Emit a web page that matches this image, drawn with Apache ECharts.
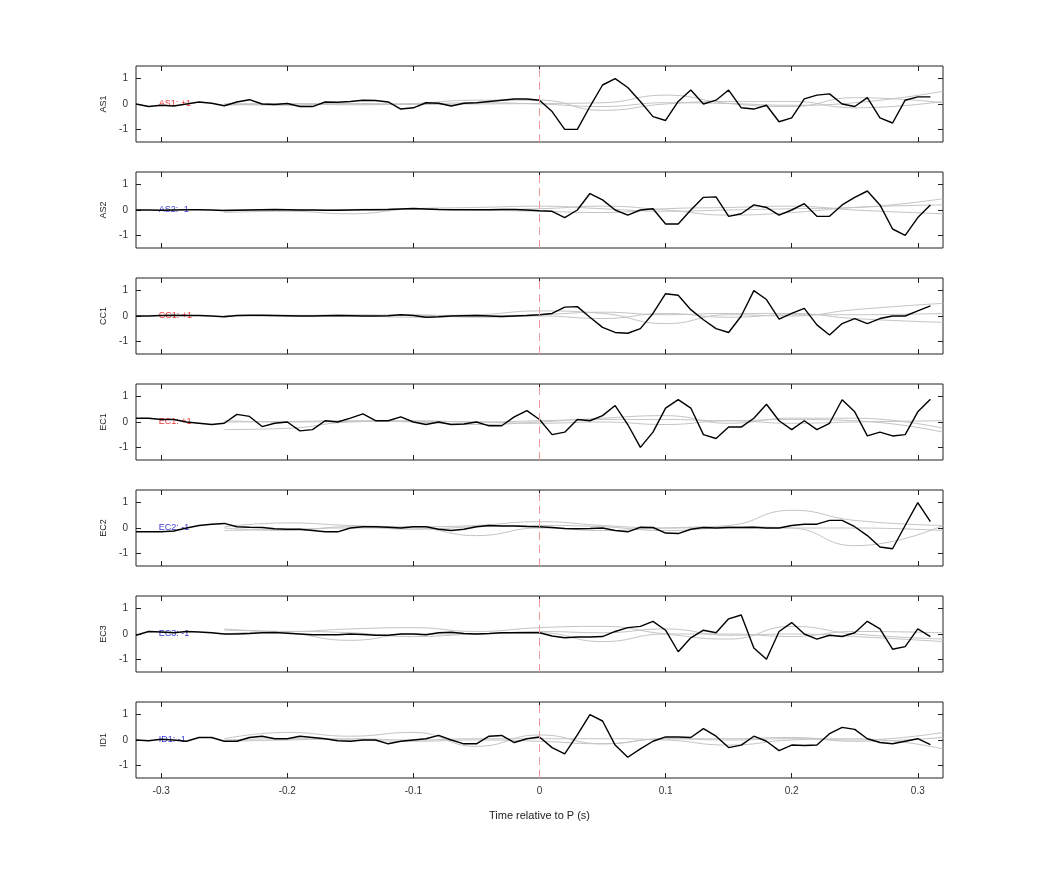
<!doctype html>
<html>
<head>
<meta charset="UTF-8">
<title></title>
<script src="https://cdn.jsdelivr.net/npm/echarts@6/dist/echarts.min.js"></script>
<style>
  body { margin: 0; background: #fff; }
  #main { width: 1042px; height: 875px; }
</style>
</head>
<body>
<div id="main"></div>
<script>
// station names and polarity labels
var stations = ['AS1', 'AS2', 'CC1', 'EC1', 'EC2', 'EC3', 'ID1'];
var polarity = ['+1', '-1', '+1', '+1', '-1', '-1', '-1'];

// black traces, sampled every 0.01 s from -0.32 to 0.31
var tAS1 = [0, -0.1, -0.05, -0.08, 0, 0.08, 0.03, -0.07, 0.08, 0.17, 0, -0.02, 0.02, -0.1, -0.1, 0.08, 0.07, 0.1, 0.15, 0.14, 0.08, -0.2, -0.15, 0.05, 0.03, -0.08, 0.03, 0.05, 0.1, 0.15, 0.2, 0.2, 0.15,
  -0.3, -1.0, -1.0, -0.1, 0.75, 1.0, 0.65, 0.1, -0.5, -0.65, 0.1, 0.55, 0, 0.15, 0.55, -0.15, -0.2, -0.05, -0.7, -0.55, 0.2, 0.35, 0.4, 0, -0.1, 0.25, -0.55, -0.75, 0.15, 0.28, 0.28];
var tAS2 = [0, 0, -0.01, 0, 0.01, 0.01, 0, -0.02, -0.01, 0, 0.01, 0.02, 0.01, 0, 0, -0.01, -0.01, 0, 0.01, 0.01, 0.02, 0.04, 0.06, 0.04, 0.02, 0.01, 0.01, 0.01, 0.01, 0.02, 0.02, 0.0, -0.03,
  -0.05, -0.3, 0, 0.65, 0.4, 0, -0.2, 0, 0.05, -0.55, -0.55, 0, 0.5, 0.52, -0.25, -0.15, 0.2, 0.1, -0.2, 0, 0.25, -0.25, -0.25, 0.2, 0.5, 0.75, 0.2, -0.75, -1.0, -0.3, 0.2];
var tCC1 = [0, 0, 0.02, 0.03, 0.02, 0.02, 0, -0.03, 0.02, 0.03, 0.03, 0.02, 0.01, 0, 0, 0.01, 0.02, 0.01, 0, 0, 0.01, 0.05, 0.02, -0.05, -0.03, 0, 0.01, 0.02, 0, -0.02, 0, 0.02, 0.05,
  0.1, 0.35, 0.37, -0.05, -0.45, -0.65, -0.68, -0.5, 0.1, 0.88, 0.82, 0.25, -0.15, -0.5, -0.65, 0, 1.0, 0.65, -0.12, 0.1, 0.3, -0.35, -0.75, -0.3, -0.1, -0.3, -0.1, 0, 0, 0.2, 0.4];
var tEC1 = [0.15, 0.15, 0.1, 0.1, 0, -0.05, -0.1, -0.05, 0.3, 0.22, -0.18, -0.05, 0, -0.35, -0.3, 0.05, 0, 0.15, 0.32, 0.05, 0.05, 0.2, 0, -0.1, 0, -0.1, -0.08, 0, -0.15, -0.15, 0.2, 0.45, 0.1,
  -0.5, -0.4, 0.1, 0.05, 0.25, 0.65, -0.1, -1.0, -0.4, 0.55, 0.88, 0.55, -0.5, -0.65, -0.2, -0.2, 0.15, 0.7, 0.05, -0.3, 0.05, -0.3, -0.05, 0.88, 0.4, -0.55, -0.4, -0.55, -0.5, 0.4, 0.9];
var tEC2 = [-0.15, -0.15, -0.15, -0.12, 0, 0.1, 0.15, 0.18, 0.05, 0.03, 0.02, -0.03, -0.05, -0.05, -0.1, -0.15, -0.15, 0, 0.05, 0.05, 0.03, 0, 0.05, 0.05, -0.05, -0.1, -0.05, 0.05, 0.1, 0.08, 0.08, 0.06, 0.05,
  0.02, -0.02, -0.03, -0.02, 0, -0.1, -0.15, 0.03, 0.02, -0.2, -0.22, -0.05, 0.02, 0, 0.02, 0.02, 0.03, 0, 0, 0.1, 0.15, 0.15, 0.3, 0.3, 0.05, -0.3, -0.75, -0.82, 0.1, 1.0, 0.25];
var tEC3 = [-0.05, 0.1, 0.08, 0.05, 0.1, 0.08, 0.05, 0, 0, 0.02, 0.05, 0.06, 0.03, 0, -0.03, -0.03, -0.03, 0, -0.02, -0.05, -0.05, 0, 0, -0.03, 0.05, 0.07, 0.02, 0, 0.02, 0.05, 0.05, 0.05, 0.05,
  -0.08, -0.15, -0.12, -0.12, -0.1, 0.1, 0.25, 0.3, 0.5, 0.15, -0.7, -0.15, 0.15, 0.05, 0.6, 0.75, -0.55, -1.0, 0.1, 0.45, 0, -0.2, -0.05, -0.1, 0.05, 0.5, 0.2, -0.6, -0.5, 0.2, -0.1];
var tID1 = [0, -0.03, 0.03, 0, -0.05, 0.1, 0.1, -0.05, -0.05, 0.1, 0.15, 0.05, 0.05, 0.15, 0.1, 0.05, -0.03, -0.05, 0, 0, -0.15, -0.05, 0, 0.05, 0.18, 0, -0.15, -0.15, 0.15, 0.18, -0.1, 0.05, 0.12,
  -0.3, -0.55, 0.2, 1.0, 0.75, -0.2, -0.68, -0.35, -0.05, 0.12, 0.12, 0.1, 0.45, 0.15, -0.3, -0.2, 0.15, -0.05, -0.42, -0.2, -0.22, -0.2, 0.25, 0.5, 0.42, 0.05, -0.1, -0.15, -0.05, 0.05, -0.18];
var traces = [tAS1, tAS2, tCC1, tEC1, tEC2, tEC3, tID1];

// grey synthetic traces, knots at these times
var gTimes = [-0.25, -0.2, -0.15, -0.1, -0.05, 0, 0.05, 0.1, 0.15, 0.2, 0.25, 0.32];
var gAS1 = [[0, -0.05, 0.02, 0, 0.05, 0.0, -0.1, 0.05, 0.02, -0.05, 0.05, 0.5],
            [-0.05, 0, -0.03, 0.02, 0.15, 0.15, -0.25, 0.0, 0.1, 0.1, -0.15, 0.1],
            [0, 0.02, 0, -0.02, 0.0, 0.02, 0.05, 0.35, 0.02, -0.1, 0.25, 0.05]];
var gAS2 = [[-0.1, -0.05, -0.15, 0.05, 0.1, 0.15, 0.05, -0.05, 0.0, 0.05, 0.1, 0.45],
            [0, 0.02, 0, 0.02, 0.02, 0.05, 0.15, 0.0, -0.2, -0.1, 0.1, 0.2],
            [0, -0.02, 0.02, 0.05, 0.0, -0.05, -0.1, 0.05, 0.1, 0.15, 0.0, -0.15]];
var gCC1 = [[0.02, 0, 0.05, 0.02, 0.05, 0.2, 0.1, -0.3, 0.05, 0.0, 0.25, 0.5],
            [0, 0.03, 0.02, -0.05, 0.0, 0.05, 0.15, 0.05, 0.1, 0.1, -0.1, -0.25],
            [0.02, 0, 0, 0.05, -0.05, 0.0, -0.1, 0.1, -0.05, 0.05, 0.05, 0.1]];
var gEC1 = [[-0.3, -0.25, 0.0, 0.05, 0.0, 0.05, 0.1, 0.1, 0.05, 0.1, 0.05, -0.4],
            [0, 0.02, 0.05, 0.0, -0.1, 0.0, 0.15, 0.25, -0.05, 0.15, 0.15, -0.25],
            [0.05, 0, 0.02, 0.03, 0.0, -0.05, 0.0, -0.1, 0.05, -0.05, 0.0, 0.05]];
var gEC2 = [[0.05, 0.2, 0.1, 0.05, 0.1, 0.25, 0.1, 0.0, 0.1, 0.7, 0.3, 0.1],
            [-0.1, -0.05, 0.0, 0.0, -0.3, 0.0, -0.1, 0.0, 0.05, 0.0, -0.7, 0.1],
            [0, -0.1, 0.05, -0.05, 0.05, 0.1, 0.05, -0.1, 0.0, 0.0, 0.0, -0.1]];
var gEC3 = [[0.2, 0.1, 0.2, 0.25, 0.1, 0.25, 0.3, 0.0, -0.2, 0.3, 0.0, -0.2],
            [0.15, 0.05, -0.25, 0.0, 0.0, 0.1, 0.05, 0.2, -0.05, 0.0, -0.1, -0.3],
            [0, 0.1, 0.05, -0.1, 0.0, 0.05, -0.3, 0.0, 0.0, -0.1, 0.1, 0.05]];
var gID1 = [[0.05, 0.3, 0.15, 0.3, -0.25, 0.2, -0.15, 0.05, 0.0, 0.05, 0.0, 0.3],
            [-0.05, 0.0, 0.05, 0.0, 0.05, 0.05, 0.05, 0.0, -0.2, 0.0, 0.05, -0.35],
            [0, 0.05, 0.0, -0.05, 0.0, -0.05, -0.15, 0.05, 0.05, 0.1, -0.05, 0.1]];
var greys = [gAS1, gAS2, gCC1, gEC1, gEC2, gEC3, gID1];

var xTicks = [-0.3, -0.2, -0.1, 0, 0.1, 0.2, 0.3];
var yTicks = [-1, 0, 1];

var chart = echarts.init(document.getElementById('main'));
var grids = [], xAxes = [], yAxes = [], series = [];
var fmt = function (v) { return String(Math.round(v * 10) / 10); };

stations.forEach(function (name, i) {
  var last = i === stations.length - 1;
  grids.push({ left: 136, width: 807, top: 66 + 106 * i, height: 76,
    show: true, borderColor: '#222', borderWidth: 1 });
  [['bottom', last], ['top', false]].forEach(function (p) {
    xAxes.push({ type: 'value', gridIndex: i, position: p[0], min: -0.32, max: 0.32,
      axisLine: { show: false, onZero: false }, splitLine: { show: false },
      axisTick: { inside: true, length: 5, customValues: xTicks, lineStyle: { color: '#222' } },
      axisLabel: { show: p[1], customValues: xTicks, formatter: fmt, color: '#333', fontSize: 10, margin: 8 },
      name: p[1] ? 'Time relative to P (s)' : '', nameLocation: 'middle', nameGap: 32,
      nameTextStyle: { color: '#222', fontSize: 11 } });
  });
  [['left', true], ['right', false]].forEach(function (p) {
    yAxes.push({ type: 'value', gridIndex: i, position: p[0], min: -1.5, max: 1.5,
      axisLine: { show: false, onZero: false }, splitLine: { show: false },
      axisTick: { inside: true, length: 5, customValues: yTicks, lineStyle: { color: '#222' } },
      axisLabel: { show: p[1], customValues: yTicks, color: '#333', fontSize: 10, margin: 8 },
      name: p[1] ? name : '', nameLocation: 'middle', nameGap: 28, nameRotate: 90,
      nameTextStyle: { color: '#222', fontSize: 9 } });
  });
  var xa = i * 2, ya = i * 2;
  greys[i].forEach(function (g) {
    series.push({ type: 'line', xAxisIndex: xa, yAxisIndex: ya, smooth: 0.5, symbol: 'none',
      lineStyle: { color: '#c4c4c4', width: 1 }, silent: true,
      data: gTimes.map(function (t, k) { return [t, g[k]]; }) });
  });
  series.push({ type: 'line', xAxisIndex: xa, yAxisIndex: ya, symbol: 'none',
    lineStyle: { color: '#000', width: 1.4 },
    data: traces[i].map(function (v, k) { return [(k - 32) / 100, v]; }),
    markLine: { silent: true, symbol: 'none', label: { show: false },
      lineStyle: { color: '#e99', type: [8, 5], width: 1 }, data: [{ xAxis: 0 }] } });
  series.push({ type: 'scatter', xAxisIndex: xa, yAxisIndex: ya, symbolSize: 0,
    data: [[-0.302, 0]],
    label: { show: true, position: 'right', distance: 0,
      formatter: name + ': ' + polarity[i], fontSize: 9,
      color: polarity[i] === '+1' ? '#e00' : '#00c' } });
});

chart.setOption({
  backgroundColor: '#fff',
  animation: false,
  grid: grids, xAxis: xAxes, yAxis: yAxes, series: series
});
</script>
</body>
</html>
